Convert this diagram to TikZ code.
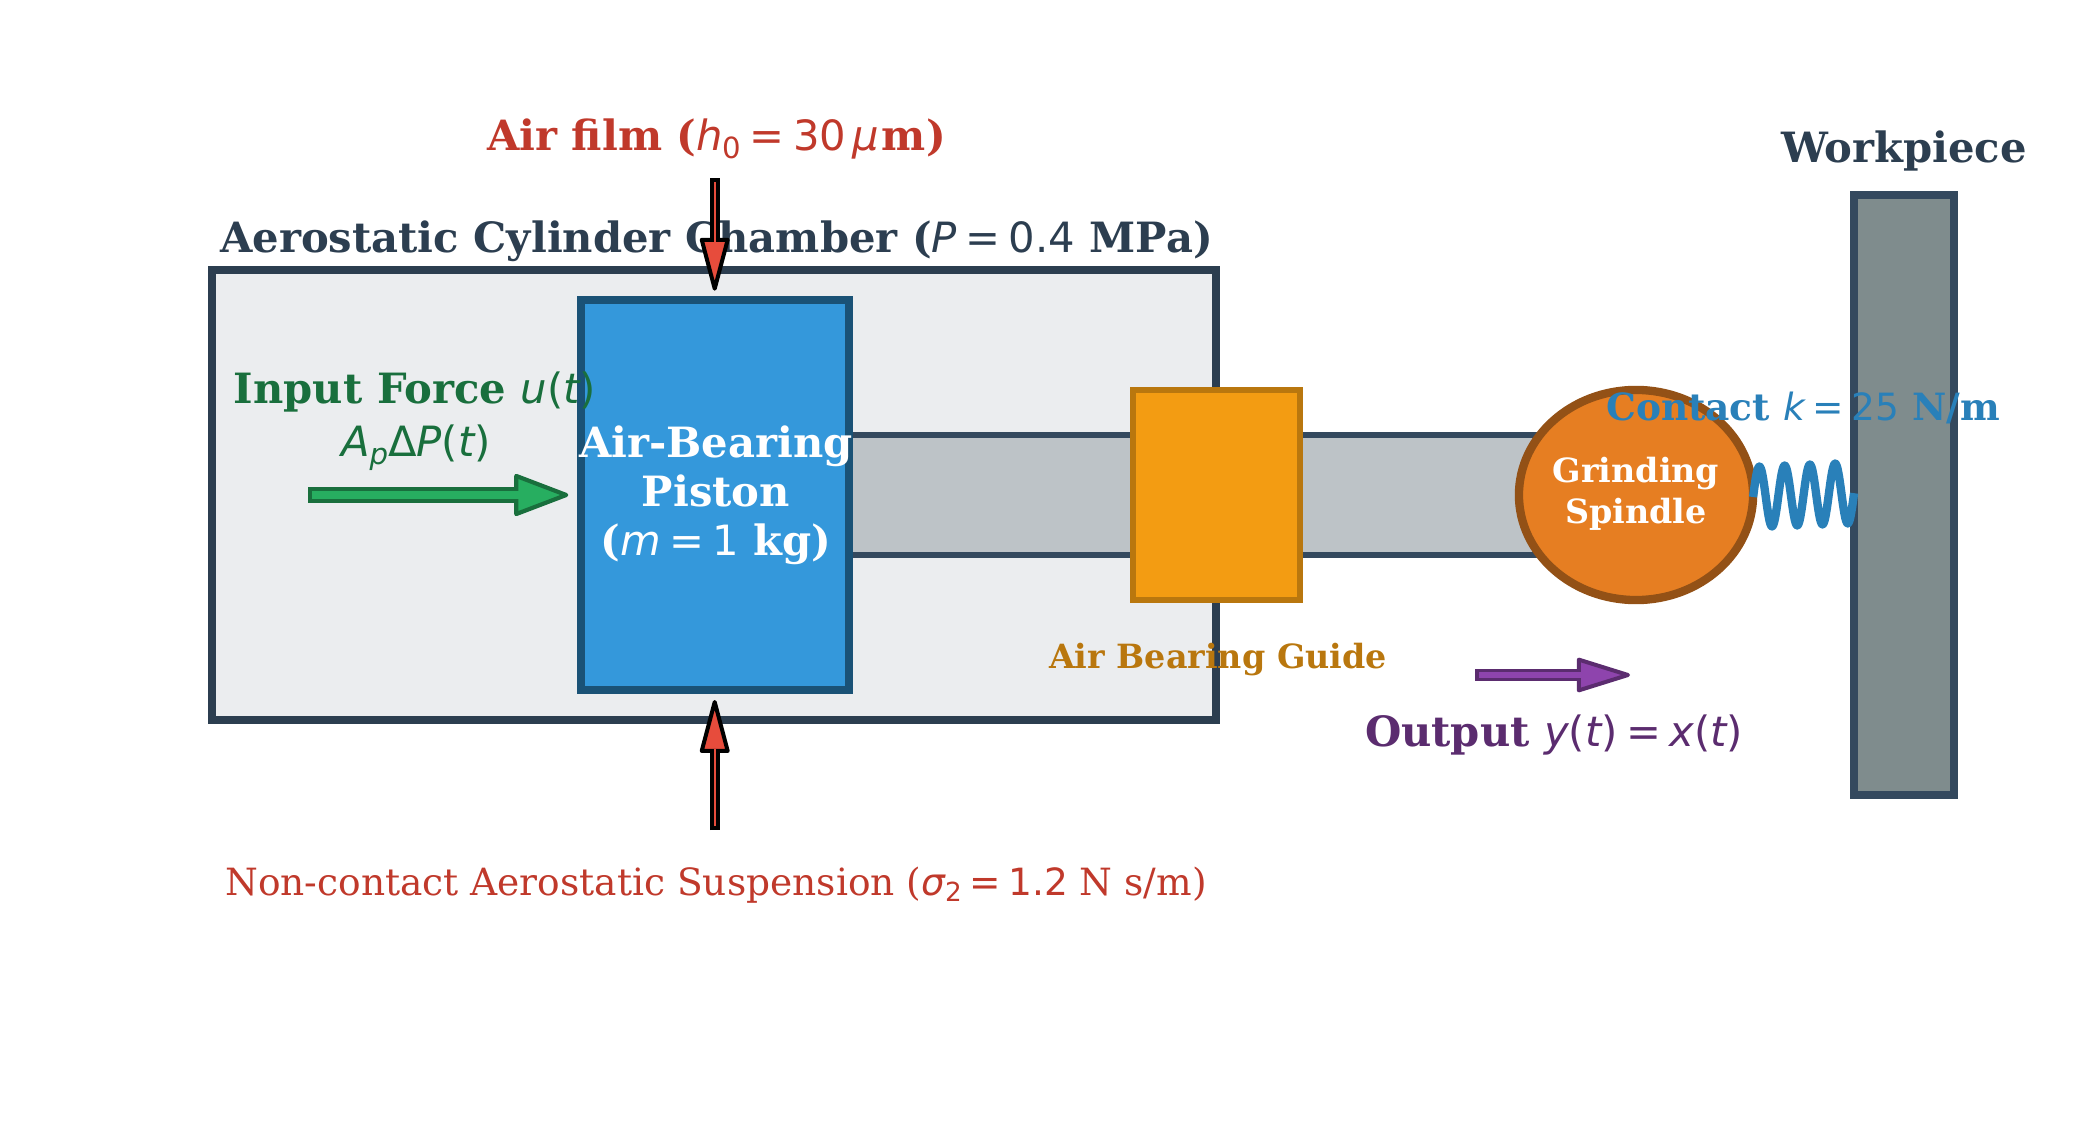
\documentclass[tikz,border=0pt]{standalone}
\usepackage{fontspec}
\setmainfont{DejaVu Serif}
\newfontfamily\dvs{DejaVu Sans}
\usetikzlibrary{arrows.meta,shapes.geometric,calc}
\definecolor{cham}{HTML}{EBEDEF}
\definecolor{chamS}{HTML}{2C3E50}
\definecolor{steel}{HTML}{34495E}
\definecolor{rodF}{HTML}{BDC3C7}
\definecolor{pistF}{HTML}{3498DB}
\definecolor{pistS}{HTML}{1A5276}
\definecolor{guideF}{HTML}{F39C12}
\definecolor{guideS}{HTML}{B9770E}
\definecolor{spinF}{HTML}{E67E22}
\definecolor{spinS}{HTML}{935116}
\definecolor{workF}{HTML}{7F8C8D}
\definecolor{springC}{HTML}{2980B9}
\definecolor{redT}{HTML}{C0392B}
\definecolor{redF}{HTML}{E74C3C}
\definecolor{greenF}{HTML}{27AE60}
\definecolor{greenS}{HTML}{196F3D}
\definecolor{purpF}{HTML}{8E44AD}
\definecolor{purpS}{HTML}{5B2C6F}
\newcommand\mi[1]{{\dvs\mdseries\itshape #1}}
\newcommand\mr[1]{{\dvs\mdseries\upshape #1}}
\newcommand\eqs{\kern.2em\mr{=}\kern.2em}
\newcommand\subs[1]{\raisebox{-.18em}{\scalebox{.7}{#1}}}
\tikzset{
 x=0.01cm,y=-0.01cm,
 box/.style={draw,rectangle,inner sep=0pt,outer sep=0pt},
 lab/.style={anchor=base,inner sep=0pt,outer sep=0pt,align=center},
 big/.style={font=\fontsize{11.86}{13.9}\selectfont\bfseries},
 nine/.style={font=\fontsize{10.67}{12.8}\selectfont},
 nineb/.style={font=\fontsize{10.67}{12.8}\selectfont\bfseries},
 eight/.style={font=\fontsize{9.48}{11.38}\selectfont\bfseries},
}
\newcommand\fatarrow[9]{%
 % from, to, dark, fill, outer shaft, inner shaft, head len, head wid, stroke
 \draw[#3,line width=#5,-{Triangle[round,length=#7,width=#8,line width=#9,fill=#4]}] (#1) -- (#2);
 \draw[#4,line width=#6,shorten <=#9,shorten >=#7-.1cm] (#1) -- (#2);
}
\begin{document}
\begin{tikzpicture}
\useasboundingbox (0,0) rectangle (2100,1140);
% bodies
\node[box,fill=cham,draw=chamS,line width=.0833cm,minimum width=10.04cm,minimum height=4.5cm] (chamber) at (714,495) {};
\node[box,fill=rodF,draw=steel,line width=.0625cm,minimum width=7.91cm,minimum height=1.2cm] (rod) at (1244.5,495) {};
\node[box,fill=guideF,draw=guideS,line width=.0625cm,minimum width=1.67cm,minimum height=2.1cm] (guide) at (1216.5,495) {};
\node[box,fill=pistF,draw=pistS,line width=.0833cm,minimum width=2.68cm,minimum height=3.9cm] (piston) at (715,495) {};
\node[lab,big,text=white] (pistonlabel) at (716,555) {Air-Bearing\\Piston\\(\mi{m}\eqs\mr{1} kg)};
\node[draw=spinS,fill=spinF,ellipse,line width=.0833cm,minimum width=2.34cm,minimum height=2.1cm,inner sep=0pt,outer sep=0pt] (spindle) at (1636,495) {};
\node[lab,eight,text=white] (spindlelabel) at (1636,523) {Grinding\\Spindle};
\node[box,fill=workF,draw=steel,line width=.0833cm,minimum width=1cm,minimum height=6cm] (workpiece) at (1904,495) {};
% spring
\draw[springC,line width=.0833cm,shift={(spindle.east)}] plot[domain=0:1,samples=241,smooth] ({101*\x},{2-4*\x-30*sin(1440*\x)});
% arrows
\coordinate (gA) at (308.3,495); \coordinate (gB) at (568.3,495);
\coordinate (tA) at (714.7,178.3); \coordinate (tB) at (714.7,290.7);
\coordinate (bA) at (714.7,830); \coordinate (bB) at (714.7,700);
\coordinate (pA) at (1475,675); \coordinate (pB) at (1630,675);
% labels
\node[lab,big,text=chamS] (chamberlabel) at (716.5,253) {Aerostatic Cylinder Chamber (\mi{P}\eqs\mr{0.4} MPa)};
\fatarrow{tA}{tB}{black}{redF}{.098cm}{.024cm}{.59cm}{.30cm}{.04cm}
\fatarrow{bA}{bB}{black}{redF}{.098cm}{.024cm}{.59cm}{.30cm}{.04cm}
\fatarrow{gA}{gB}{greenS}{greenF}{.166cm}{.086cm}{.58cm}{.43cm}{.0417cm}
\fatarrow{pA}{pB}{purpS}{purpF}{.117cm}{.06cm}{.58cm}{.35cm}{.04cm}
\node[lab,big,text=redT] (filmlabel) at (716.5,151) {Air film (\mi{h}\subs{\mr{0}}\eqs\mr{30}\kern.15em\mi{μ}\kern.07em m)};
\node[lab,big,text=greenS] (forcelabel) at (415,404) {Input Force \mi{u}\mr{(}\mi{t}\mr{)}};
\node[lab,big,text=greenS] (pressurelabel) at (416,457) {\mi{A}\subs{\mi{p}}\mr{Δ}\mi{P}\mr{(}\mi{t}\mr{)}};
\node[lab,big,text=chamS] (worklabel) at (1904,163) {Workpiece};
\node[lab,nineb,text=springC] (contactlabel) at (1803,420) {Contact \mi{k}\eqs\mr{25} N/m};
\node[lab,eight,text=guideS] (guidelabel) at (1218,668) {Air Bearing Guide};
\node[lab,big,text=purpS] (outputlabel) at (1554,746) {Output \mi{y}\mr{(}\mi{t}\mr{)}\eqs\mi{x}\mr{(}\mi{t}\mr{)}};
\node[lab,nine,text=redT] (suspensionlabel) at (716,895) {Non-contact Aerostatic Suspension (\mi{σ}\subs{\mr{2}}\eqs\mr{1.2} N s/m)};
\end{tikzpicture}
\end{document}
